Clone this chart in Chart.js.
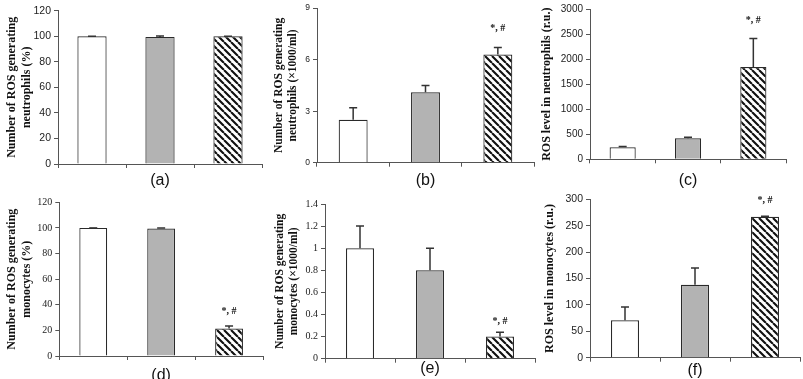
<!DOCTYPE html>
<html>
<head>
<meta charset="utf-8">
<script src="https://cdn.jsdelivr.net/npm/chart.js@4"></script>
<style>
  html, body { margin: 0; padding: 0; background: #fff; overflow: hidden; }
  body { width: 803px; height: 379px; position: relative; }
  canvas { position: absolute; }
</style>
</head>
<body>
<canvas id="chA"></canvas>
<canvas id="chB"></canvas>
<canvas id="chC"></canvas>
<canvas id="chD"></canvas>
<canvas id="chE"></canvas>
<canvas id="chF"></canvas>
<script>
/* Tre gruppi per pannello: bianco, grigio, tratteggiato. */
const groups = ['Gruppo 1', 'Gruppo 2', 'Gruppo 3'];

// (a) neutrofili ROS+ (%)
const neutroPct    = [100, 99.5, 100];
const neutroPctTop = [100, 100.2, 100];
// (b) neutrofili ROS+ (x1000/ml)
const neutroCnt    = [2.5, 4.1, 6.3];
const neutroCntTop = [3.2, 4.5, 6.7];
// (c) livello ROS neutrofili (r.u.)
const neutroRos    = [240, 420, 1840];
const neutroRosTop = [255, 440, 2410];
// (d) monociti ROS+ (%)
const monoPct      = [100, 99.5, 21.5];
const monoPctTop   = [100, 100, 23.5];
// (e) monociti ROS+ (x1000/ml)
const monoCnt      = [1.0, 0.8, 0.2];
const monoCntTop   = [1.2, 1.0, 0.24];
// (f) livello ROS monociti (r.u.)
const monoRos      = [71, 138, 267];
const monoRosTop   = [96, 170, 268];

// marcatore di significatività sul terzo gruppo (valore = altezza del testo)
const sigText = '*, #';
const sigAt = { b: 7.8, c: 2780, d: 35, e: 0.34, f: 297 };

function hatchPattern() {
  const s = 7;
  const c = document.createElement('canvas');
  c.width = s; c.height = s;
  const g = c.getContext('2d');
  g.fillStyle = '#fff';
  g.fillRect(0, 0, s, s);
  g.strokeStyle = '#111';
  g.lineWidth = 2.1;
  g.beginPath();
  [-s, 0, s].forEach(a => { g.moveTo(a, 0); g.lineTo(a + s, s); });
  g.stroke();
  return g.createPattern(c, 'repeat');
}
const fills = ['#ffffff', '#b3b3b3', hatchPattern()];

const errorBars = {
  id: 'errorBars',
  afterDatasetsDraw(chart, args, opts) {
    const { ctx } = chart;
    const y = chart.scales.y;
    const bars = chart.getDatasetMeta(0).data;
    ctx.save();
    ctx.strokeStyle = '#333';
    ctx.lineWidth = 1.5;
    bars.forEach((bar, i) => {
      const top = opts.tops[i];
      const y1 = y.getPixelForValue(top);
      ctx.beginPath();
      ctx.moveTo(bar.x, bar.y);
      ctx.lineTo(bar.x, y1);
      ctx.moveTo(bar.x - 4, y1);
      ctx.lineTo(bar.x + 4, y1);
      ctx.stroke();
    });
    if (opts.sig != null) {
      ctx.fillStyle = '#111';
      ctx.font = 'bold 10px "Liberation Serif", serif';
      ctx.textAlign = 'center';
      ctx.textBaseline = 'middle';
      ctx.fillText(sigText, bars[2].x, y.getPixelForValue(opts.sig));
    }
    ctx.restore();
  }
};

function panel(p) {
  const cv = document.getElementById(p.id);
  cv.width = p.w; cv.height = p.h;
  cv.style.left = p.left + 'px';
  cv.style.top = p.top + 'px';
  new Chart(cv, {
    type: 'bar',
    data: {
      labels: groups,
      datasets: [{
        data: p.data,
        backgroundColor: fills,
        borderColor: '#2a2a2a',
        borderWidth: 1.2,
        barPercentage: p.barPct,
        categoryPercentage: 1
      }]
    },
    options: {
      responsive: false,
      animation: false,
      layout: { padding: { top: p.padTop, right: p.padRight, left: 0, bottom: 0 } },
      plugins: {
        legend: { display: false },
        tooltip: { enabled: false },
        errorBars: { tops: p.tops, sig: p.sig }
      },
      scales: {
        x: {
          grid: { display: true, drawOnChartArea: false, drawTicks: true, tickLength: 4, color: '#555', offset: true },
          border: { color: '#555', width: 1 },
          ticks: { display: false },
          title: {
            display: true, text: p.label, color: '#111',
            font: { family: 'Liberation Sans, Arial, sans-serif', size: 16 },
            padding: { top: 0, bottom: 0 }
          },
          afterFit: s => { s.height = p.xh; }
        },
        y: {
          min: 0, max: p.max,
          grid: { display: true, drawOnChartArea: false, drawTicks: true, tickLength: 4, color: '#555' },
          border: { color: '#555', width: 1 },
          ticks: {
            stepSize: p.step, padding: 3, color: '#222',
            font: { family: p.tickFont, size: p.tickSize },
            callback: v => String(+v.toFixed(2))
          },
          title: {
            display: true, text: p.title, color: '#111',
            font: { family: 'Liberation Serif, Times New Roman, serif', size: p.titleSize, weight: 'bold', lineHeight: 1.2 },
            padding: { top: p.titlePad, bottom: 0 }
          },
          afterFit: s => { s.width = p.yw; }
        }
      }
    },
    plugins: [errorBars]
  });
}

const sans = 'Liberation Sans, Arial, sans-serif';
const serif = 'Liberation Serif, Times New Roman, serif';

panel({ id: 'chA', left: 0, top: 0, w: 268, h: 190, padTop: 10.7, padRight: 6, xh: 26, yw: 58,
  data: neutroPct, tops: neutroPctTop, sig: null, max: 120, step: 20, barPct: 0.43,
  tickFont: sans, tickSize: 10.5, title: ['Number of ROS generating', 'neutrophils (%)'], titleSize: 12, titlePad: 5, label: '(a)' });
panel({ id: 'chB', left: 268, top: 0, w: 268, h: 190, padTop: 7.3, padRight: 2, xh: 27.3, yw: 49,
  data: neutroCnt, tops: neutroCntTop, sig: sigAt.b, max: 9, step: 3, barPct: 0.40,
  tickFont: sans, tickSize: 8.5, title: ['Number of ROS generating', 'neutrophils (×1000/ml)'], titleSize: 11.5, titlePad: 4, label: '(b)' });
panel({ id: 'chC', left: 535, top: 0, w: 268, h: 190, padTop: 6.7, padRight: 17, xh: 30.7, yw: 55,
  data: neutroRos, tops: neutroRosTop, sig: sigAt.c, max: 3000, step: 500, barPct: 0.40,
  tickFont: sans, tickSize: 10, title: 'ROS level in neutrophils (r.u.)', titleSize: 12, titlePad: 4.5, label: '(c)' });
panel({ id: 'chD', left: 0, top: 190, w: 268, h: 195, padTop: 12.3, padRight: 5, xh: 29, yw: 59.3,
  data: monoPct, tops: monoPctTop, sig: sigAt.d, max: 120, step: 20, barPct: 0.41,
  tickFont: serif, tickSize: 10, title: ['Number of ROS generating', 'monocytes (%)'], titleSize: 12, titlePad: 5, label: '(d)' });
panel({ id: 'chE', left: 268, top: 190, w: 268, h: 188, padTop: 14, padRight: 1, xh: 19.3, yw: 57,
  data: monoCnt, tops: monoCntTop, sig: sigAt.e, max: 1.4, step: 0.2, barPct: 0.40,
  tickFont: serif, tickSize: 10, title: ['Number of ROS generating', 'monocytes (×1000/ml)'], titleSize: 11.5, titlePad: 5, label: '(e)' });
panel({ id: 'chF', left: 535, top: 190, w: 268, h: 190, padTop: 9.3, padRight: 3, xh: 22.3, yw: 55,
  data: monoRos, tops: monoRosTop, sig: sigAt.f, max: 300, step: 50, barPct: 0.40,
  tickFont: sans, tickSize: 10.5, title: 'ROS level in monocytes (r.u.)', titleSize: 12, titlePad: 8, label: '(f)' });
</script>
</body>
</html>
